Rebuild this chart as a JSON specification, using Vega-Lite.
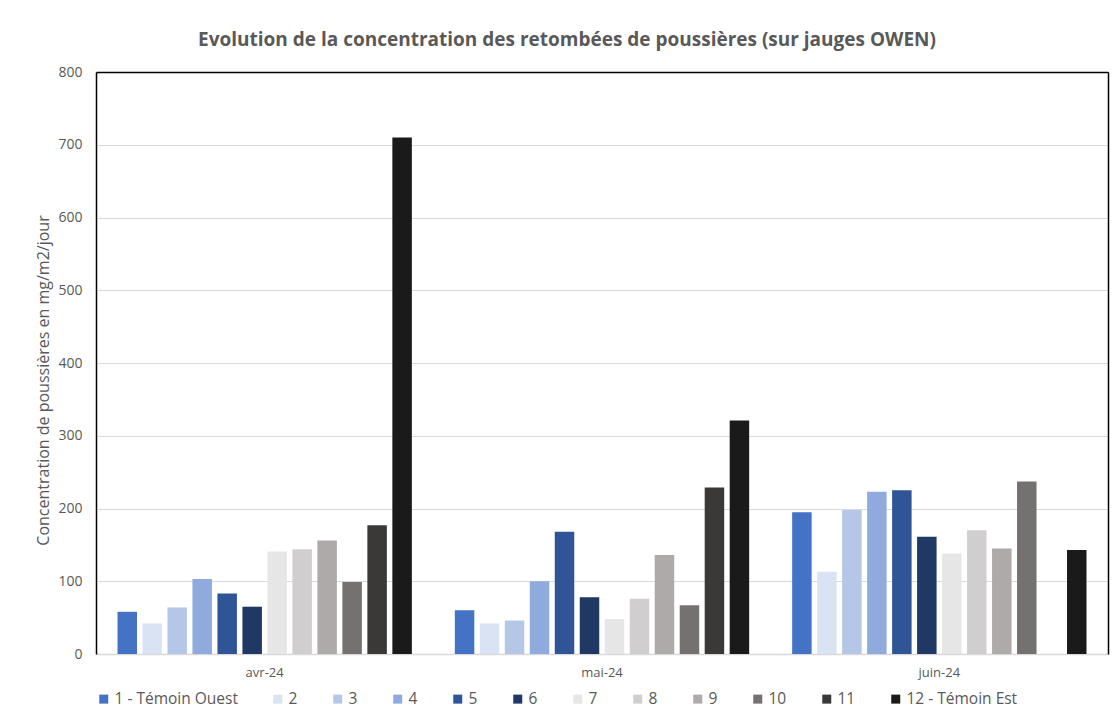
{
  "$schema": "https://vega.github.io/schema/vega-lite/v6.json",
  "autosize": {"type": "none"},
  "width": 1012,
  "height": 582,
  "padding": {"left": 96, "top": 72, "right": 7, "bottom": 73},
  "background": "white",
  "title": {
    "text": "Evolution de la concentration des retombées de poussières (sur jauges OWEN)",
    "anchor": "middle",
    "dx": -35,
    "offset": 15,
    "font": "Open Sans",
    "fontSize": 19,
    "fontWeight": "bold",
    "color": "#595959"
  },
  "data": {
    "values": [
      {"mois": "avr-24", "serie": "1 - Témoin Ouest", "valeur": 58},
      {"mois": "avr-24", "serie": "2", "valeur": 42},
      {"mois": "avr-24", "serie": "3", "valeur": 64},
      {"mois": "avr-24", "serie": "4", "valeur": 103},
      {"mois": "avr-24", "serie": "5", "valeur": 83},
      {"mois": "avr-24", "serie": "6", "valeur": 65},
      {"mois": "avr-24", "serie": "7", "valeur": 141},
      {"mois": "avr-24", "serie": "8", "valeur": 144},
      {"mois": "avr-24", "serie": "9", "valeur": 156},
      {"mois": "avr-24", "serie": "10", "valeur": 99},
      {"mois": "avr-24", "serie": "11", "valeur": 177},
      {"mois": "avr-24", "serie": "12 - Témoin Est", "valeur": 710},
      {"mois": "mai-24", "serie": "1 - Témoin Ouest", "valeur": 60},
      {"mois": "mai-24", "serie": "2", "valeur": 42},
      {"mois": "mai-24", "serie": "3", "valeur": 46},
      {"mois": "mai-24", "serie": "4", "valeur": 100},
      {"mois": "mai-24", "serie": "5", "valeur": 168},
      {"mois": "mai-24", "serie": "6", "valeur": 78},
      {"mois": "mai-24", "serie": "7", "valeur": 48},
      {"mois": "mai-24", "serie": "8", "valeur": 76},
      {"mois": "mai-24", "serie": "9", "valeur": 136},
      {"mois": "mai-24", "serie": "10", "valeur": 67},
      {"mois": "mai-24", "serie": "11", "valeur": 229},
      {"mois": "mai-24", "serie": "12 - Témoin Est", "valeur": 321},
      {"mois": "juin-24", "serie": "1 - Témoin Ouest", "valeur": 195},
      {"mois": "juin-24", "serie": "2", "valeur": 113},
      {"mois": "juin-24", "serie": "3", "valeur": 198},
      {"mois": "juin-24", "serie": "4", "valeur": 223},
      {"mois": "juin-24", "serie": "5", "valeur": 225},
      {"mois": "juin-24", "serie": "6", "valeur": 161},
      {"mois": "juin-24", "serie": "7", "valeur": 138},
      {"mois": "juin-24", "serie": "8", "valeur": 170},
      {"mois": "juin-24", "serie": "9", "valeur": 145},
      {"mois": "juin-24", "serie": "10", "valeur": 237},
      {"mois": "juin-24", "serie": "12 - Témoin Est", "valeur": 143}
    ]
  },
  "layer": [
    {
      "mark": {"type": "bar"},
      "encoding": {
        "x": {
          "field": "mois",
          "type": "nominal",
          "sort": ["avr-24", "mai-24", "juin-24"],
          "scale": {"paddingInner": 0, "paddingOuter": 0},
          "axis": {
            "title": null,
            "labelAngle": 0,
            "ticks": false,
            "domainColor": "#D9D9D9",
            "domainWidth": 1.5,
            "labelPadding": 12,
            "labelFont": "Open Sans",
            "labelFontSize": 13,
            "labelColor": "#595959",
            "grid": false
          }
        },
        "xOffset": {
          "field": "serie",
          "type": "nominal",
          "sort": ["1 - Témoin Ouest", "2", "3", "4", "5", "6", "7", "8", "9", "10", "11", "12 - Témoin Est"],
          "scale": {"paddingInner": 0.22, "paddingOuter": 0.86}
        },
        "y": {
          "field": "valeur",
          "type": "quantitative",
          "scale": {"domain": [0, 800], "nice": false},
          "axis": {
            "title": "Concentration de poussières en mg/m2/jour",
            "titleFont": "Open Sans",
            "titleFontSize": 16,
            "titleFontWeight": "normal",
            "titleColor": "#595959",
            "titleX": -45,
            "titleY": 308,
            "values": [0, 100, 200, 300, 400, 500, 600, 700, 800],
            "ticks": false,
            "domain": true,
            "domainColor": "#000000",
            "domainWidth": 1.5,
            "labelPadding": 14,
            "labelFont": "Open Sans",
            "labelFontSize": 14,
            "labelColor": "#595959",
            "gridColor": "#D9D9D9",
            "gridWidth": 1
          }
        },
        "color": {
          "field": "serie",
          "type": "nominal",
          "sort": ["1 - Témoin Ouest", "2", "3", "4", "5", "6", "7", "8", "9", "10", "11", "12 - Témoin Est"],
          "scale": {
            "domain": ["1 - Témoin Ouest", "2", "3", "4", "5", "6", "7", "8", "9", "10", "11", "12 - Témoin Est"],
            "range": ["#4472C4", "#DAE3F3", "#B4C7E7", "#8FAADC", "#2F5597", "#203864", "#E7E6E6", "#D0CECE", "#AEAAAA", "#767171", "#3B3838", "#1A1A1A"]
          },
          "legend": {
            "title": null,
            "orient": "none",
            "direction": "horizontal",
            "columns": 12,
            "legendX": 0,
            "legendY": 619,
            "symbolType": "square",
            "symbolSize": 81,
            "symbolStrokeWidth": 0,
            "labelFont": "Open Sans",
            "labelFontSize": 15.5,
            "labelColor": "#595959",
            "labelOffset": 3,
            "columnPadding": 32
          }
        }
      }
    },
    {
      "mark": {"type": "bar", "opacity": 0},
      "encoding": {
        "x": {
          "field": "mois",
          "type": "nominal",
          "sort": ["avr-24", "mai-24", "juin-24"],
          "axis": {
            "orient": "top",
            "title": null,
            "labels": false,
            "ticks": false,
            "grid": false,
            "domainColor": "#000000",
            "domainWidth": 1.5
          }
        },
        "xOffset": {
          "field": "serie",
          "type": "nominal",
          "sort": ["1 - Témoin Ouest", "2", "3", "4", "5", "6", "7", "8", "9", "10", "11", "12 - Témoin Est"]
        },
        "y": {
          "field": "valeur",
          "type": "quantitative",
          "axis": {
            "orient": "right",
            "title": null,
            "labels": false,
            "ticks": false,
            "grid": false,
            "domainColor": "#000000",
            "domainWidth": 1.5
          }
        }
      }
    }
  ],
  "resolve": {"axis": {"x": "independent", "y": "independent"}},
  "config": {
    "view": {"stroke": null}
  }
}
